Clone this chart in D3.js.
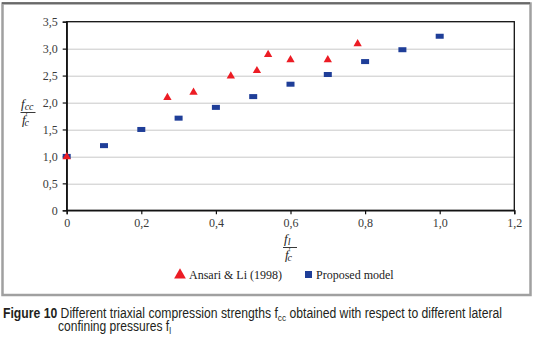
<!DOCTYPE html>
<html>
<head>
<meta charset="utf-8">
<script src="https://cdn.jsdelivr.net/npm/d3@7"></script>
<style>
  body { margin: 0; background: #fff; }
  svg { display: block; }
</style>
</head>
<body>
<div id="chart"></div>
<script>
// data
let ansariX = [0, 0.27, 0.34, 0.44, 0.51, 0.54, 0.60, 0.70, 0.78];
let ansariY = [1.0, 2.1, 2.2, 2.5, 2.6, 2.9, 2.8, 2.8, 3.1];
let modelX = [0, 0.1, 0.2, 0.3, 0.4, 0.5, 0.6, 0.7, 0.8, 0.9, 1.0];
let modelY = [1.0, 1.2, 1.5, 1.71, 1.91, 2.11, 2.34, 2.52, 2.76, 2.98, 3.23];
let xTicks = [0, 0.2, 0.4, 0.6, 0.8, 1.0, 1.2];
let yTicks = [0, 0.5, 1.0, 1.5, 2.0, 2.5, 3.0, 3.5];
let seriesNames = ["Ansari & Li (1998)", "Proposed model"];

let W = 535, H = 339;
let margin = {top: 21.7, left: 66.7, right: 535 - 514.3, bottom: 339 - 210.3};
let width = W - margin.left - margin.right;
let height = H - margin.top - margin.bottom;

let serif = "'Liberation Serif', 'DejaVu Serif', serif";
let red = "#ec1c24", blue = "#1f3e98";

let svg = d3.select("#chart").append("svg")
    .attr("width", W)
    .attr("height", H);

// outer frame
svg.append("rect")
    .attr("x", 2.5).attr("y", 3.5)
    .attr("width", 528).attr("height", 291.5)
    .attr("fill", "none")
    .attr("stroke", "#a0a0a0")
    .attr("stroke-width", 2.5);
svg.append("line")
    .attr("x1", 2).attr("x2", 530).attr("y1", 3).attr("y2", 3)
    .attr("stroke", "#333").attr("stroke-width", 1);

let g = svg.append("g")
    .attr("transform", `translate(${margin.left},${margin.top})`);

let fmt = d => d === 0 ? "0" : d3.format(".1f")(d).replace(".", ",");

let xScale = d3.scaleLinear().domain([0, 1.2]).range([0, width]);
let yScale = d3.scaleLinear().domain([0, 3.5]).range([height, 0]);

// gridlines
g.append("g").selectAll("line")
    .data(yTicks.slice(1, -1))
    .enter().append("line")
    .attr("x1", 0).attr("x2", width)
    .attr("y1", d => Math.round(yScale(d)) + 0.5)
    .attr("y2", d => Math.round(yScale(d)) + 0.5)
    .attr("stroke", "#c8c8c8")
    .attr("stroke-width", 1);

// plot frame
g.append("rect")
    .attr("x", 0).attr("y", 0)
    .attr("width", width).attr("height", height)
    .attr("fill", "none")
    .attr("stroke", "#111")
    .attr("stroke-width", 1.3);

// axes
let xAxis = d3.axisBottom(xScale).tickValues(xTicks).tickFormat(fmt).tickSize(4).tickPadding(4);
let yAxis = d3.axisLeft(yScale).tickValues(yTicks).tickFormat(fmt).tickSize(4).tickPadding(5);

let gx = g.append("g")
    .attr("class", "x-axis")
    .attr("transform", `translate(0,${height})`)
    .call(xAxis);
let gy = g.append("g")
    .attr("class", "y-axis")
    .call(yAxis);

[gx, gy].forEach(a => {
    a.select(".domain").attr("stroke", "#111").attr("stroke-width", 1.3);
    a.selectAll(".tick line").attr("stroke", "#111").attr("stroke-width", 1.2);
    a.selectAll(".tick text")
        .attr("font-family", serif)
        .attr("font-size", 12)
        .attr("fill", "#3a3a3a");
});

// markers
let ansari = ansariX.map((x, i) => ({x: x, y: ansariY[i]}));
let model = modelX.map((x, i) => ({x: x, y: modelY[i]}));

g.append("g").selectAll("rect")
    .data(model)
    .enter().append("rect")
    .attr("x", d => xScale(d.x) - 4)
    .attr("y", d => yScale(d.y) - 2.5)
    .attr("width", 8)
    .attr("height", 5)
    .attr("fill", blue);

let tri = d3.symbol().type(d3.symbolTriangle).size(30);
g.append("g").selectAll("path")
    .data(ansari)
    .enter().append("path")
    .attr("d", tri)
    .attr("transform", d => `translate(${xScale(d.x)},${yScale(d.y) + 0.5})`)
    .attr("fill", red);

// y label fraction
let yl = svg.append("g").attr("font-family", serif).attr("fill", "#222");
let yNum = yl.append("text").attr("x", 21).attr("y", 108).attr("font-size", 13).attr("font-style", "italic");
yNum.append("tspan").text("f");
yNum.append("tspan").attr("font-size", 10).attr("dy", 2).text("cc");
yl.append("line").attr("x1", 20.5).attr("x2", 35.5).attr("y1", 112.5).attr("y2", 112.5)
    .attr("stroke", "#222").attr("stroke-width", 0.9);
let yDen = yl.append("text").attr("x", 22).attr("y", 124).attr("font-size", 13).attr("font-style", "italic");
yDen.append("tspan").text("f");
yDen.append("tspan").attr("font-size", 8).attr("dy", -5).attr("font-style", "normal").text("′");
yDen.append("tspan").attr("font-size", 10).attr("dx", -3).attr("dy", 7).text("c");

// x label fraction
let xl = svg.append("g").attr("font-family", serif).attr("fill", "#222");
let xNum = xl.append("text").attr("x", 284).attr("y", 243).attr("font-size", 13).attr("font-style", "italic");
xNum.append("tspan").text("f");
xNum.append("tspan").attr("font-size", 10).attr("dy", 2).text("l");
xl.append("line").attr("x1", 283).attr("x2", 297).attr("y1", 247.5).attr("y2", 247.5)
    .attr("stroke", "#222").attr("stroke-width", 0.9);
let xDen = xl.append("text").attr("x", 285).attr("y", 259).attr("font-size", 13).attr("font-style", "italic");
xDen.append("tspan").text("f");
xDen.append("tspan").attr("font-size", 8).attr("dy", -5).attr("font-style", "normal").text("′");
xDen.append("tspan").attr("font-size", 10).attr("dx", -3).attr("dy", 7).text("c");

// legend
let legend = svg.append("g").attr("font-family", serif).attr("font-size", 12).attr("fill", "#222");
legend.append("path")
    .attr("d", d3.symbol().type(d3.symbolTriangle).size(60))
    .attr("transform", "translate(180,275)")
    .attr("fill", red);
legend.append("text").attr("x", 189).attr("y", 279).text(seriesNames[0]);
legend.append("rect")
    .attr("x", 305).attr("y", 271).attr("width", 7).attr("height", 7)
    .attr("fill", blue);
legend.append("text").attr("x", 316).attr("y", 279).text(seriesNames[1]);

// caption
let capFont = "'Liberation Sans Narrow', 'Liberation Sans', 'Open Sans', sans-serif";
let cap1 = svg.append("text")
    .attr("x", 3).attr("y", 318)
    .attr("font-family", capFont)
    .attr("font-size", 14)
    .attr("fill", "#231f20")
    .attr("textLength", 499)
    .attr("lengthAdjust", "spacingAndGlyphs");
cap1.append("tspan").attr("font-weight", "bold").text("Figure 10 ");
cap1.append("tspan").text("Different triaxial compression strengths f");
cap1.append("tspan").attr("font-size", 9.5).attr("dy", 3).text("cc");
cap1.append("tspan").attr("dy", -3).text(" obtained with respect to different lateral");

let cap2 = svg.append("text")
    .attr("x", 58).attr("y", 331)
    .attr("font-family", capFont)
    .attr("font-size", 14)
    .attr("fill", "#231f20")
    .attr("textLength", 113)
    .attr("lengthAdjust", "spacingAndGlyphs");
cap2.append("tspan").text("confining pressures f");
cap2.append("tspan").attr("font-size", 9.5).attr("dy", 3).text("l");
</script>
</body>
</html>
